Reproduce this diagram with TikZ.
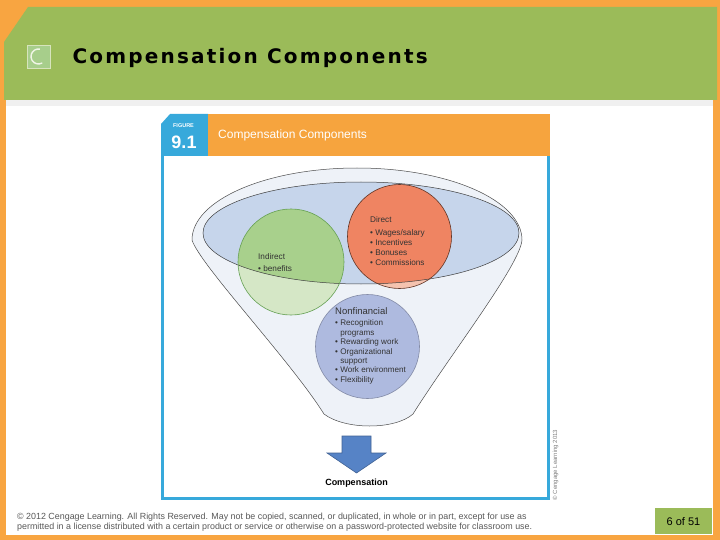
\documentclass[tikz,border=0pt]{standalone}
\usepackage{fontspec}
\setmainfont{Liberation Sans}
\newfontfamily\titlefont[LetterSpace=11]{DejaVu Sans}
\usepackage{xcolor}
\usepackage{tikz}
\usetikzlibrary{shapes,arrows,positioning,calc}

\definecolor{slideorange}{HTML}{F8A541}
\definecolor{slidegreen}{HTML}{9BBB59}
\definecolor{figblue}{HTML}{37A9DB}
\definecolor{figorange}{HTML}{F6A43E}
\definecolor{funnelfill}{HTML}{EEF2F8}
\definecolor{bowlfill}{HTML}{C6D5EB}
\definecolor{indirectgreen}{HTML}{A8D08C}
\definecolor{indirectlight}{HTML}{D5E7C6}
\definecolor{directred}{HTML}{EF8462}
\definecolor{directlight}{HTML}{F5C3AF}
\definecolor{nonfinblue}{HTML}{AEBADF}
\definecolor{arrowblue}{HTML}{5683C6}
\definecolor{circletext}{HTML}{333333}

\tikzset{
  circlelabel/.style={anchor=north west, align=left, inner sep=0pt, text=circletext,
    font=\fontsize{8.2}{10}\selectfont},
  footnotetext/.style={anchor=west, inner sep=0pt, text=black!65,
    font=\fontsize{8.9}{10}\selectfont}
}

\begin{document}
\begin{tikzpicture}[x=1pt, y=-1pt]
        \useasboundingbox (0,0) rectangle (720,540);
        % slide background
        \fill[slideorange] (0,0) rectangle (720,540);
        \fill[white] (6,100) rectangle (713,535);
        \fill[black!6] (6,100) rectangle (713,106);
        \fill[slidegreen] (28,7) -- (717,7) -- (717,100) -- (4,100) -- (4,42) -- cycle;
        % title icon
        \fill[green!55!black!30!slidegreen!60!white, draw=white!60!slidegreen] (27,45) rectangle (50,68);
        \draw[white!85!slidegreen, line width=1.4pt] (38.5,56.5) ++(60:7.5) arc[start angle=60, end angle=280, radius=7.5];
        \node[anchor=west, font=\titlefont\bfseries\fontsize{20}{21}\selectfont] (title) at (69,58) {Compensation Components};

        % figure header
        \fill[figblue] (161,124) -- (170,114) -- (208,114) -- (208,156) -- (161,156) -- cycle;
        \fill[figorange] (208,114) rectangle (550,156);
        \node[white, font=\bfseries\fontsize{5.5}{6}\selectfont, inner sep=0pt] (figword) at (183.5,125.5) {FIGURE};
        \node[white, font=\bfseries\fontsize{18}{18}\selectfont, inner sep=0pt] (fignum) at (184,142.5) {9.1};
        \node[white, anchor=west, inner sep=0pt, font=\fontsize{12}{13}\selectfont] (figtitle) at (218,135.5) {Compensation Components};
        \draw[figblue, line width=3pt] (162.5,156) -- (162.5,498.5) -- (548.5,498.5) -- (548.5,156);
        \node[rotate=90, inner sep=0pt, text=black!50, font=\fontsize{6}{7}\selectfont] (credit) at (555.5,465) {\textcopyright{} Cengage Learning 2013};

        % funnel
        \draw[black!70, fill=funnelfill, line width=0.5pt] (192,240) arc[start angle=180, end angle=360, x radius=165, y radius=72]
            .. controls (520,265) and (450,355) .. (413,414)
            .. controls (395,430) and (345,430) .. (324,414)
            .. controls (290,360) and (200,265) .. (192,240) -- cycle;
        \fill[bowlfill] (361,233) ellipse[x radius=158, y radius=51];

        % circles, lighter below the bowl
        \fill[indirectlight] (291,262) circle[radius=53];
        \fill[directlight] (399.5,236.5) circle[radius=52];
        \begin{scope}
            \clip (361,233) ellipse[x radius=158, y radius=51];
            \fill[indirectgreen] (291,262) circle[radius=53];
            \fill[directred] (399.5,236.5) circle[radius=52];
        \end{scope}
        \draw[black!75, line width=0.5pt] (361,233) ellipse[x radius=158, y radius=51];
        \draw[green!35!black!40!indirectgreen, line width=0.6pt] (291,262) circle[radius=53];
        \draw[black!60!directred, line width=0.6pt] (399.5,236.5) circle[radius=52];
        \draw[nonfinblue!75!black, fill=nonfinblue, line width=0.6pt] (367.5,346.5) circle[radius=52];

        % circle texts
        \node[circlelabel] (direct) at (370,216) {Direct\\[3pt]
            \textbullet\ Wages/salary\\ \textbullet\ Incentives\\ \textbullet\ Bonuses\\ \textbullet\ Commissions};
        \node[circlelabel] (indirect) at (258,253) {Indirect\\[2pt] \textbullet\ benefits};
        \node[circlelabel, font=\fontsize{8.1}{9.4}\selectfont] (nonfin) at (335,307.5) {{\fontsize{9.5}{10}\selectfont Nonfinancial}\\[2pt]
            \textbullet\ Recognition\\ \phantom{\textbullet\ }programs\\ \textbullet\ Rewarding work\\
            \textbullet\ Organizational\\ \phantom{\textbullet\ }support\\ \textbullet\ Work environment\\ \textbullet\ Flexibility};

        % result arrow
        \draw[arrowblue!75!black, fill=arrowblue, line width=0.6pt] (342,436) -- (371,436) -- (371,453) -- (386,453)
            -- (356.5,473) -- (327,453) -- (342,453) -- cycle;
        \node[font=\bfseries\fontsize{9}{10}\selectfont, inner sep=0pt] (result) at (356.5,483.5) {Compensation};

        % footer
        \node[footnotetext] (copyline) at (17,517) {\textcopyright{} 2012 Cengage Learning. All Rights Reserved. May not be copied, scanned, or duplicated, in whole or in part, except for use as};
        \node[footnotetext] (permitline) at (17,527.5) {permitted in a license distributed with a certain product or service or otherwise on a password-protected website for classroom use.};
        \fill[slidegreen] (655,508) rectangle (712,534);
        \node[font=\fontsize{11}{12}\selectfont] (pagenum) at (683.5,522) {6 of 51};
    \end{tikzpicture}
\end{document}
